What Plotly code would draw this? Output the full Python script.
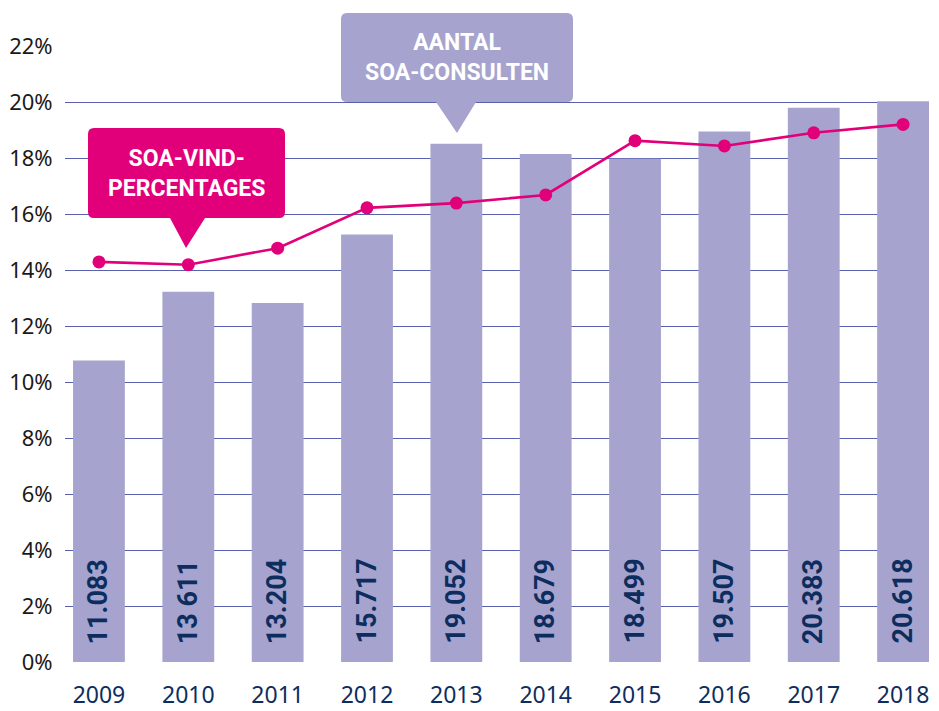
import plotly.graph_objects as go

years = ["2009", "2010", "2011", "2012", "2013", "2014", "2015", "2016", "2017", "2018"]
consults = [11083, 13611, 13204, 15717, 19052, 18679, 18499, 19507, 20383, 20618]
consult_labels = ["11.083", "13 611", "13.204", "15.717", "19.052", "18.679", "18.499", "19.507", "20.383", "20.618"]
find_pct = [14.29, 14.19, 14.78, 16.22, 16.39, 16.68, 18.62, 18.43, 18.9, 19.2]
pct_ticks = list(range(0, 23, 2))

W, H = 939, 711
PLOT_L, PLOT_R, PLOT_T, PLOT_B = 65, 929, 46, 662  # reference pixels
L, T, R, B = PLOT_L, PLOT_T, W - PLOT_R, H - PLOT_B
PW, PH = W - L - R, H - T - B
COUNT_MAX = 22 * 1029.5

BAR = "#a6a4ce"
PINK = "#e2007a"
NAVY = "#0d2d5e"
GRID = "#5a60b0"
NARROW = "Liberation Sans Narrow, Roboto, Noto Sans, sans-serif"
FONT = "Noto Sans, Open Sans, sans-serif"

fig = go.Figure()
fig.add_trace(go.Bar(
    x=years, y=consults, marker=dict(color=BAR, line=dict(width=0)),
    width=0.58, yaxis="y", hoverinfo="skip", showlegend=False,
))
fig.add_trace(go.Scatter(
    x=years, y=find_pct, yaxis="y2", mode="lines+markers",
    line=dict(color=PINK, width=2.6), marker=dict(color=PINK, size=13),
    showlegend=False,
))

for i, lab in enumerate(consult_labels):
    fig.add_annotation(
        x=i, y=0.026 * COUNT_MAX, xref="x", yref="y",
        text=f"<b>{lab}</b>", textangle=-90, showarrow=False,
        xanchor="center", yanchor="bottom",
        font=dict(family=NARROW, size=27, color=NAVY),
    )


# reference-pixel -> paper coordinates
def px(x):
    return (x - PLOT_L) / PW


def py(y):
    return (PLOT_B - y) / PH


def callout(x0, y0, x1, y1, tb0, tb1, tipx, tipy, r=6):
    pts = []
    pts.append(f"M{px(x0 + r)},{py(y0)}")
    pts.append(f"L{px(x1 - r)},{py(y0)}")
    pts.append(f"Q{px(x1)},{py(y0)} {px(x1)},{py(y0 + r)}")
    pts.append(f"L{px(x1)},{py(y1 - r)}")
    pts.append(f"Q{px(x1)},{py(y1)} {px(x1 - r)},{py(y1)}")
    pts.append(f"L{px(tb1)},{py(y1)}")
    pts.append(f"L{px(tipx)},{py(tipy)}")
    pts.append(f"L{px(tb0)},{py(y1)}")
    pts.append(f"L{px(x0 + r)},{py(y1)}")
    pts.append(f"Q{px(x0)},{py(y1)} {px(x0)},{py(y1 - r)}")
    pts.append(f"L{px(x0)},{py(y0 + r)}")
    pts.append(f"Q{px(x0)},{py(y0)} {px(x0 + r)},{py(y0)}")
    return " ".join(pts) + " Z"


shapes = [
    dict(type="path", xref="paper", yref="paper",
         path=callout(88, 128, 285, 218, 170, 205, 186, 248),
         fillcolor=PINK, line=dict(width=0), layer="above"),
    dict(type="path", xref="paper", yref="paper",
         path=callout(341, 13, 573, 102, 436, 476, 457, 133),
         fillcolor=BAR, line=dict(width=0), layer="above"),
]

fig.add_annotation(x=px(186), y=py(173), xref="paper", yref="paper",
                   text="<b>SOA-VIND-<br>PERCENTAGES</b>", showarrow=False,
                   font=dict(family=NARROW, size=23, color="white"),
                   align="center", xanchor="center", yanchor="middle")
fig.add_annotation(x=px(457), y=py(58), xref="paper", yref="paper",
                   text="<b>AANTAL<br>SOA-CONSULTEN</b>", showarrow=False,
                   font=dict(family=NARROW, size=23, color="white"),
                   align="center", xanchor="center", yanchor="middle")

fig.update_layout(
    width=W, height=H,
    margin=dict(l=L, r=R, t=T, b=B, autoexpand=False),
    paper_bgcolor="white", plot_bgcolor="white",
    shapes=shapes,
    xaxis=dict(
        type="category", range=[-0.38, 9.29], showgrid=False, zeroline=False,
        showline=False, ticks="outside", ticklen=12, tickcolor="rgba(0,0,0,0)",
        tickfont=dict(family=FONT, size=23, color=NAVY), automargin=False,
    ),
    yaxis=dict(
        range=[0, COUNT_MAX], visible=False, showgrid=False, zeroline=False,
        automargin=False,
    ),
    yaxis2=dict(
        overlaying="y", side="left", anchor="x", range=[0, 22],
        tickvals=pct_ticks, ticktext=[f"{v}%" for v in pct_ticks],
        showgrid=True, gridcolor=GRID, gridwidth=1.3, zeroline=False,
        showline=False, ticks="outside", ticklen=7, tickcolor="rgba(0,0,0,0)",
        tickfont=dict(family=FONT, size=22, color="#1a1a1a"), automargin=False,
    ),
)

fig.write_html(
    "out.html",
    config={"displayModeBar": False},
    post_script="document.body.style.margin='0';document.body.style.overflow='hidden';",
)
